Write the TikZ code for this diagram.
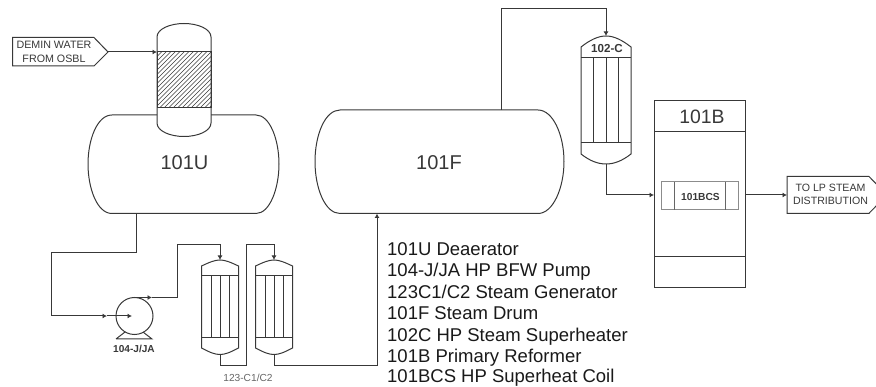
\documentclass[tikz,border=0pt]{standalone}
\usepackage{fontspec}
\setmainfont{Liberation Sans}
\usetikzlibrary{arrows.meta}
\definecolor{ink}{gray}{0.22}
\tikzset{
  x=1pt,y=-1pt,
  ln/.style={draw=ink,line width=1pt},
  flow/.style={draw=ink,line width=1pt,-{Latex[length=4.5pt,width=5pt]}},
  txt/.style={inner sep=0pt,text=ink},
  legend/.style={anchor=base west,inner sep=0pt,font=\fontsize{18.5}{18.5}\selectfont,text=black!90},
  exch/.pic={
    \draw[ln] (-18.5,6) .. controls (-10,2) and (-5,0) .. (0,0) .. controls (5,0) and (10,2) .. (18.5,6)
      -- (18.5,88) .. controls (10,92.5) and (5,94.5) .. (0,94.5) .. controls (-5,94.5) and (-10,92.5) .. (-18.5,88) -- cycle;
    \draw[ln] (-18.5,16) -- (18.5,16) (-18.5,78) -- (18.5,78);
    \draw[ln] (-9,16) -- (-9,78) (0,16) -- (0,78) (9,16) -- (9,78);
  }
}
\begin{document}
\begin{tikzpicture}
\useasboundingbox (0,0) rectangle (876,387);
% coordinates
\coordinate (deminTip) at (108,52);
\coordinate (colIn) at (157,52);
\coordinate (uOut) at (136.5,213.5);
\coordinate (pumpIn) at (132,316);
\coordinate (pumpOut) at (134,297.5);
\coordinate (ex1Top) at (220,260);
\coordinate (ex1Bot) at (220,354.5);
\coordinate (ex2Top) at (274,260);
\coordinate (ex2Bot) at (274,354.5);
\coordinate (fIn) at (377,213.5);
\coordinate (fOut) at (501,110);
\coordinate (cTop) at (606,36);
\coordinate (cBot) at (606,164);
\coordinate (bIn) at (654,195);
\coordinate (bOut) at (745,195);
\coordinate (lpIn) at (787,195);
% 101U
\draw[ln] (157,115) -- (112,115) .. controls (97,115) and (88,140) .. (88,164) .. controls (88,188) and (97,213.5) .. (112,213.5)
  -- (256,213.5) .. controls (270,213.5) and (279,188) .. (279,164) .. controls (279,140) and (270,115) .. (256,115) -- (211,115);
\node[txt,font=\fontsize{20}{20}\selectfont] (n101U) at (184.5,163) {101U};
% column
\draw[ln] (157,37) .. controls (157,29) and (170,23.5) .. (184,23.5) .. controls (198,23.5) and (211,29) .. (211,37)
  -- (211,123) .. controls (211,131) and (198,136.5) .. (184,136.5) .. controls (170,136.5) and (157,131) .. (157,123) -- cycle;
\begin{scope}
\clip (157,52) rectangle (211,108);
\foreach \k in {0,...,28} \draw[draw=ink,line width=0.55pt] (85+4.5*\k,115) -- (85+4.5*\k+70,45);
\end{scope}
\draw[ln] (157,52) rectangle (211,108);
% demin
\node[txt,font=\fontsize{10.7}{13.3}\selectfont,align=center] (demin) at (54,52) {DEMIN WATER\\FROM OSBL};
\draw[ln] (12.5,37.5) -- (94,37.5) -- (deminTip) -- (94,66) -- (12.5,66) -- cycle;
\draw[flow] (deminTip) -- (colIn);
% pump
\draw[ln] (134.5,316) circle (18.5);
\draw[ln] (116,339) -- (152,339) -- (143,332) (116,339) -- (125,332);
\node[txt,font=\bfseries\fontsize{10.1}{10.1}\selectfont] (pumpLabel) at (134,349) {104-J/JA};
\draw[flow] (uOut) -- (136.5,252.5) -- (51.5,252.5) -- (51.5,316) -- (107,316);
\draw[flow] (107,316) -- (pumpIn);
\draw[flow] (pumpOut) -- (152,297.5);
\draw[ln] (152,297.5) -- (177,297.5) -- (177,245) -- (220,245) -- (220,250);
\draw[flow] (220,250) -- (ex1Top);
% exchangers
\pic at (ex1Top) {exch};
\pic at (ex2Top) {exch};
\draw[flow] (ex1Bot) -- (220,366) -- (246,366) -- (246,245) -- (274,245) -- (ex2Top);
\draw[flow] (ex2Bot) -- (274,366) -- (377,366) -- (fIn);
\node[txt,font=\fontsize{10.2}{10.2}\selectfont,text=black!60] (exLabel) at (248,377.7) {123-C1/C2};
% 101F
\draw[ln] (340,110) .. controls (325,110) and (315,135) .. (315,161.5) .. controls (315,188) and (325,213.5) .. (340,213.5)
  -- (538,213.5) .. controls (553,213.5) and (564,188) .. (564,161.5) .. controls (564,135) and (553,110) .. (538,110) -- cycle;
\node[txt,font=\fontsize{20}{20}\selectfont] (n101F) at (439,163) {101F};
\draw[flow] (fOut) -- (501,9) -- (606,9) -- (cTop);
% 102-C
\draw[ln] (581,47) .. controls (590,40) and (598,36) .. (606,36) .. controls (614,36) and (622,40) .. (631,47)
  -- (631,154) .. controls (622,161) and (614,164) .. (606,164) .. controls (598,164) and (590,161) .. (581,154) -- cycle;
\draw[ln] (581,58) -- (631,58) (581,143) -- (631,143);
\draw[ln] (593.5,58) -- (593.5,143) (606,58) -- (606,143) (618.5,58) -- (618.5,143);
\node[txt,font=\bfseries\fontsize{11.6}{11.6}\selectfont] (n102C) at (607,49) {102-C};
\draw[flow] (cBot) -- (606,195) -- (bIn);
% 101B
\draw[ln] (654,101) rectangle (745,288);
\draw[ln] (654,132) -- (745,132) (654,257) -- (745,257);
\node[txt,font=\fontsize{19.4}{19.4}\selectfont] (n101B) at (702,117) {101B};
\draw[draw=black!45,line width=1pt] (661.5,182) rectangle (738.5,210);
\draw[draw=black!60,line width=1pt] (674,182) -- (674,210) (725.5,182) -- (725.5,210);
\node[txt,font=\bfseries\fontsize{10.2}{10.2}\selectfont] (n101BCS) at (700.5,196.7) {101BCS};
\draw[flow] (bOut) -- (lpIn);
\begin{scope}
\clip (0,0) rectangle (876,387);
\draw[ln] (787,176.5) -- (869,176.5) -- (887,195) -- (869,213.3) -- (787,213.3) -- cycle;
\end{scope}
\node[txt,font=\fontsize{10.6}{13}\selectfont,align=center] (lp) at (830.5,194.5) {TO LP STEAM\\DISTRIBUTION};
% legend
\node[legend] (lega) at (387,255.2) {101U Deaerator};
\node[legend] (legb) at (387,276.8) {104-J/JA HP BFW Pump};
\node[legend] (legc) at (387,298.3) {123C1/C2 Steam Generator};
\node[legend] (legd) at (387,320) {101F Steam Drum};
\node[legend] (lege) at (387,341.4) {102C HP Steam Superheater};
\node[legend] (legf) at (387,362.6) {101B Primary Reformer};
\node[legend] (legg) at (387,383) {101BCS HP Superheat Coil};
\end{tikzpicture}
\end{document}
